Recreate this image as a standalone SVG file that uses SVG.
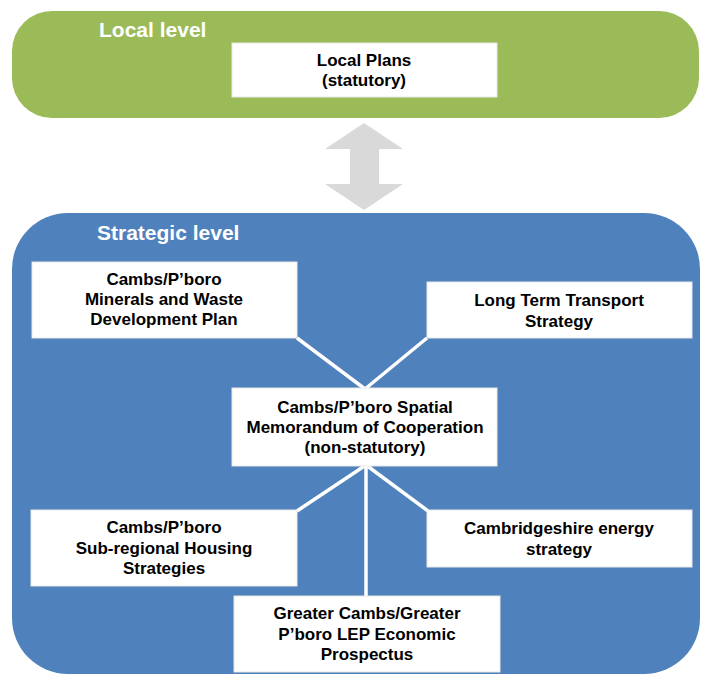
<svg xmlns="http://www.w3.org/2000/svg" width="701" height="674" viewBox="0 0 701 674">
<style>
.panel-g{fill:#9bbb59}
.panel-b{fill:#4f81bd}
.box{fill:#ffffff;stroke:#e8e8e8;stroke-width:1}
.t{font-family:"Liberation Sans",Arial,sans-serif;font-weight:bold;font-size:17px;fill:#000;text-anchor:middle}
.title{font-family:"Liberation Sans",Arial,sans-serif;font-weight:bold;font-size:21px;fill:#ffffff}
.conn{stroke:#ffffff;stroke-width:3.5;fill:none}
</style>
<rect width="701" height="674" fill="#ffffff"/>
<g id="local-level">
<rect class="panel-g" x="12" y="11" width="687" height="107" rx="40" ry="40"/>
<text class="title" x="99" y="37">Local level</text>
</g>
<g id="strategic-level">
<rect class="panel-b" x="12" y="213" width="688" height="461" rx="56" ry="56"/>
<text class="title" x="97" y="240">Strategic level</text>
</g>
<g id="double-arrow">
<polygon fill="#d9d9d9" points="364,123 403,149 379,149 379,184 403,184 364,210 325,184 350,184 350,149 325,149"/>
</g>
<g id="connectors">
<line class="conn" x1="297" y1="338" x2="365" y2="389"/>
<line class="conn" x1="427" y1="338" x2="365" y2="389"/>
<line class="conn" x1="366" y1="465" x2="297" y2="511"/>
<line class="conn" x1="366" y1="465" x2="428" y2="511"/>
<line class="conn" x1="366" y1="465" x2="366" y2="597"/>
</g>
<g id="local-plans">
<rect class="box" x="232" y="43" width="265" height="54"/>
<text class="t" x="364" y="66">Local Plans</text>
<text class="t" x="364" y="86">(statutory)</text>
</g>
<g id="minerals-waste">
<rect class="box" x="32" y="262" width="265" height="76"/>
<text class="t" x="164" y="285">Cambs/P’boro</text>
<text class="t" x="164" y="305">Minerals and Waste</text>
<text class="t" x="164" y="325">Development Plan</text>
</g>
<g id="transport">
<rect class="box" x="427" y="282" width="265" height="56"/>
<text class="t" x="559" y="306">Long Term Transport</text>
<text class="t" x="559" y="327">Strategy</text>
</g>
<g id="spatial">
<rect class="box" x="232" y="388" width="265" height="78"/>
<text class="t" x="365" y="413">Cambs/P’boro Spatial</text>
<text class="t" x="365" y="433">Memorandum of Cooperation</text>
<text class="t" x="365" y="453">(non-statutory)</text>
</g>
<g id="housing">
<rect class="box" x="31" y="510" width="266" height="76"/>
<text class="t" x="164" y="533">Cambs/P’boro</text>
<text class="t" x="164" y="554">Sub-regional Housing</text>
<text class="t" x="164" y="574">Strategies</text>
</g>
<g id="energy">
<rect class="box" x="427" y="510" width="265" height="57"/>
<text class="t" x="559" y="534">Cambridgeshire energy</text>
<text class="t" x="559" y="555">strategy</text>
</g>
<g id="lep">
<rect class="box" x="234" y="596" width="266" height="76"/>
<text class="t" x="367" y="619">Greater Cambs/Greater</text>
<text class="t" x="367" y="640">P’boro LEP Economic</text>
<text class="t" x="367" y="660">Prospectus</text>
</g>
</svg>
